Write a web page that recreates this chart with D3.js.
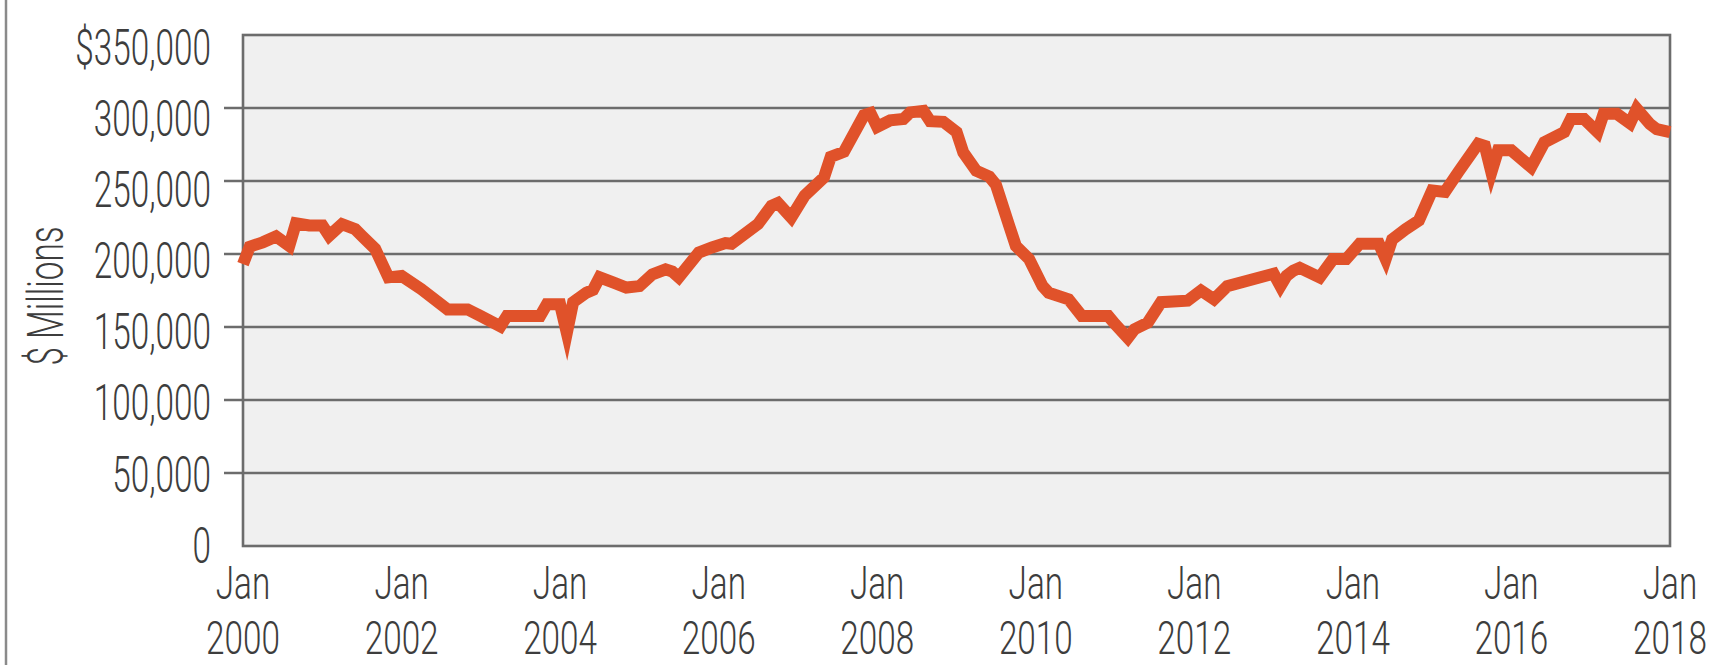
<!DOCTYPE html>
<html><head><meta charset="utf-8">
<script src="https://cdn.jsdelivr.net/npm/d3@7"></script>
<style>html,body{margin:0;padding:0;background:#fff;} svg{display:block;}</style>
</head><body>
<svg id="chart" width="1720" height="665"></svg>
<script>
// ---- data ----
const dates = ["2000-01","2000-02","2000-04","2000-06","2000-08","2000-09","2000-11","2001-01","2001-02","2001-04",
"2001-06","2001-07","2001-09","2001-11","2002-01","2002-04","2002-08","2002-11","2003-01","2003-04",
"2003-05","2003-10","2003-11","2004-01","2004-02","2004-03","2004-05","2004-06","2004-07","2004-09",
"2004-11","2005-01","2005-03","2005-05","2005-06","2005-07","2005-10","2005-12","2006-02","2006-03",
"2006-07","2006-09","2006-10","2006-12","2007-02","2007-05","2007-06","2007-08","2007-11","2007-12",
"2008-01","2008-03","2008-05","2008-06","2008-08","2008-09","2008-11","2009-01","2009-02","2009-04",
"2009-06","2009-07","2009-09","2009-10","2009-12","2010-02","2010-03","2010-06","2010-08","2010-12",
"2011-01","2011-03","2011-04","2011-06","2011-08","2011-12","2012-02","2012-04","2012-06","2013-01",
"2013-02","2013-03","2013-04","2013-05","2013-08","2013-10","2013-12","2014-02","2014-05","2014-06",
"2014-07","2014-09","2014-11","2015-01","2015-03","2015-05","2015-08","2015-09","2015-10","2015-11",
"2016-01","2016-04","2016-06","2016-09","2016-10","2016-12","2017-02","2017-03","2017-05","2017-07",
"2017-08","2017-10","2017-11","2018-01"];
const values = [193000,205000,208000,212000,205500,221000,219500,219500,212500,220500,
217000,212500,203500,184000,185000,176000,162000,162000,157500,150500,
157500,157500,165500,165500,146000,167000,173500,175500,184000,180500,
177000,178000,186000,189500,188000,184000,201000,204500,207500,207000,
220500,233000,235000,225000,240000,252500,266500,270000,295000,296500,
287000,291500,292500,297000,298000,291000,290500,283500,269500,257000,
253000,247500,219000,205500,196500,178000,173500,169000,157500,157500,
152000,142500,148500,153000,167000,168000,175000,169000,178000,186500,
178000,185000,188500,190500,184000,196500,196500,207000,207000,196500,
210000,217000,223000,243500,242500,256000,275500,274000,256000,271000,
271000,259500,276500,283500,292500,292500,283500,296000,296000,289500,
299500,289000,285500,283500];
const yTicks = [0,50000,100000,150000,200000,250000,300000,350000];
const xTickYears = [2000,2002,2004,2006,2008,2010,2012,2014,2016,2018];
const xTickMonth = "Jan";
const yTitle = "$ Millions";

// ---- layout ----
const svg = d3.select("#chart");
const FONT = "Roboto, 'Open Sans', sans-serif";
const FS = 49, SX = 0.68, TXT = "#3d3d3d";
const XFS = 46, XSX = 0.724;
const L = 243, R = 1670, T = 35, B = 546;
const parse = d3.timeParse("%Y-%m");
const data = dates.map((d,i)=>({date:parse(d), value:values[i]}));

const x = d3.scaleTime().domain([new Date(2000,0,1), new Date(2018,0,1)]).range([L, R]);
const y = d3.scaleLinear().domain([0,350000]).range([B, T]);
const yLab = d3.scaleLinear().domain([0,350000]).range([545, 47]);

// outer left rule
svg.append("line").attr("x1",6).attr("x2",6).attr("y1",0).attr("y2",665)
  .attr("stroke","#8a8a8a").attr("stroke-width",2.5);

// plot background
svg.append("rect").attr("x",L).attr("y",T).attr("width",R-L).attr("height",B-T).attr("fill","#f0f0f0");

// gridlines + ticks
const gridVals = yTicks.filter(v=>v>0 && v<350000);
svg.append("g").selectAll("line").data(gridVals).join("line")
  .attr("x1", L-19).attr("x2", R).attr("y1", d=>y(d)).attr("y2", d=>y(d))
  .attr("stroke","#6c6c6c").attr("stroke-width",2.6);

// frame
svg.append("rect").attr("x",L).attr("y",T).attr("width",R-L).attr("height",B-T)
  .attr("fill","none").attr("stroke","#6c6c6c").attr("stroke-width",2.6);

// y labels
const fmt = d3.format(",");
svg.append("g").selectAll("text").data(yTicks).join("text")
  .attr("transform", d=>`translate(211,${yLab(d)}) scale(${SX},1)`)
  .attr("text-anchor","end").attr("dy","0.36em")
  .attr("font-family",FONT).attr("font-weight",300).attr("font-size",FS).attr("fill",TXT)
  .text(d => d===350000 ? "$"+fmt(d) : fmt(d));

// x labels (two lines)
const xg = svg.append("g").selectAll("g").data(xTickYears).join("g")
  .attr("transform", d=>`translate(${x(new Date(d,0,1))},0)`);
xg.append("text").attr("transform",`translate(0,599) scale(${XSX},1)`).attr("text-anchor","middle")
  .attr("font-family",FONT).attr("font-weight",300).attr("font-size",XFS).attr("fill",TXT).text(xTickMonth);
xg.append("text").attr("transform",`translate(0,654) scale(${XSX},1)`).attr("text-anchor","middle")
  .attr("font-family",FONT).attr("font-weight",300).attr("font-size",XFS).attr("fill",TXT).text(d=>d);

// y title
svg.append("text").attr("transform",`translate(63,296) rotate(-90) scale(${SX},1)`)
  .attr("text-anchor","middle").attr("font-family",FONT).attr("font-weight",300)
  .attr("font-size",FS).attr("fill",TXT).text(yTitle);

// line
const line = d3.line().x(d=>x(d.date)).y(d=>y(d.value));
svg.append("path").datum(data).attr("d", line).attr("fill","none")
  .attr("stroke","#e0522a").attr("stroke-width",12).attr("stroke-linejoin","miter").attr("stroke-miterlimit",6);
</script>
</body></html>
